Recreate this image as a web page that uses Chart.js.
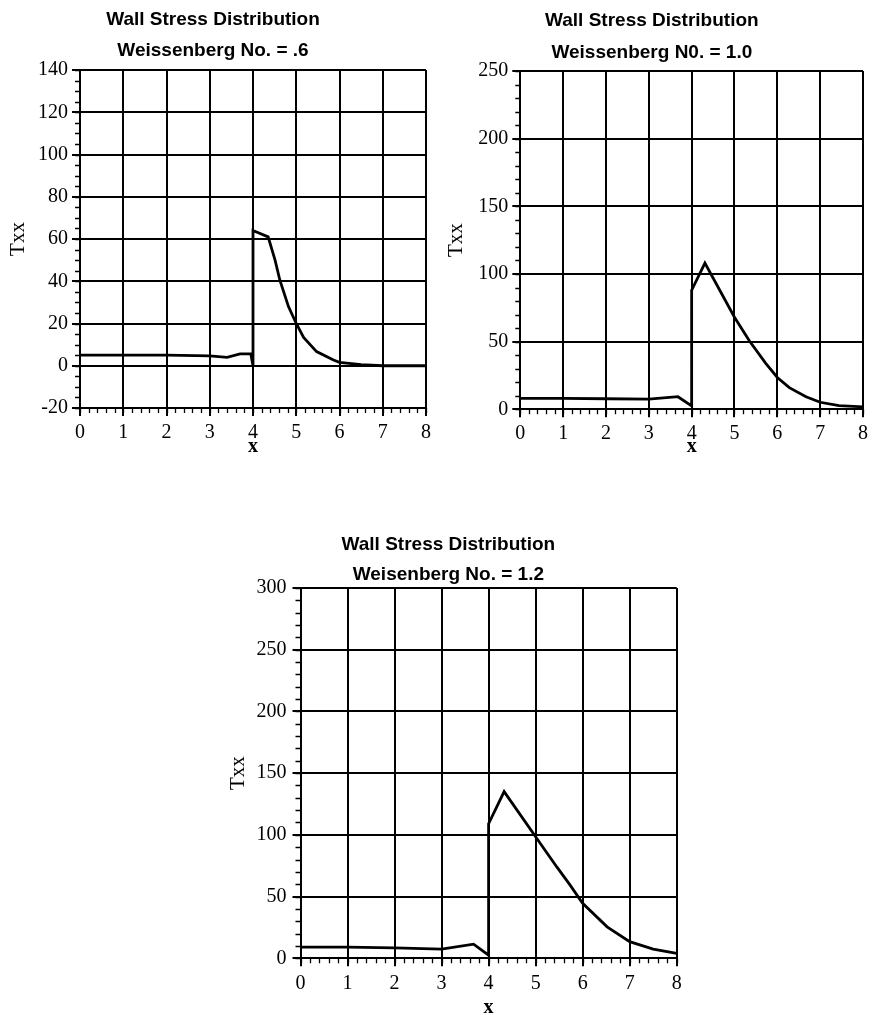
<!DOCTYPE html>
<html>
<head>
<meta charset="utf-8">
<title>Wall Stress Distribution</title>
<script src="https://cdn.jsdelivr.net/npm/chart.js@4.4.1/dist/chart.umd.min.js"></script>
<style>
  html, body { margin: 0; padding: 0; background: #fff; overflow: hidden; }
  .box { position: absolute; }
</style>
</head>
<body>
<div class="box" style="left:0;top:0;width:440px;height:470px"><canvas id="chartWe06"></canvas></div>
<div class="box" style="left:440px;top:0;width:432px;height:470px"><canvas id="chartWe10"></canvas></div>
<div class="box" style="left:220px;top:520px;width:470px;height:500px"><canvas id="chartWe12"></canvas></div>
<script>
// data (x along the wall, Txx wall stress)
const xWe06 = [0, 1, 2, 3, 3.4, 3.7, 3.95, 4.0, 4.0, 4.35, 4.51, 4.62, 4.82, 5.0, 5.17, 5.47, 5.86, 6.0, 6.5, 7.0, 8.0];
const txxWe06 = [5, 5, 5, 4.7, 4, 5.6, 5.6, 0, 64, 61, 50, 40.6, 28, 20, 13.4, 6.7, 2.7, 1.6, 0.5, 0, 0];

const xWe10 = [0, 1, 2, 3, 3.68, 4.0, 4.0, 4.31, 5.0, 5.35, 5.73, 6.0, 6.28, 6.67, 7.0, 7.44, 8.0];
const txxWe10 = [8, 8, 7.8, 7.5, 9.3, 2.5, 88, 108, 68, 50.5, 34, 23.5, 16, 9.3, 5.2, 2.7, 1.8];

const xWe12 = [0, 1, 2, 3, 3.68, 4.0, 4.0, 4.33, 5.0, 5.45, 5.73, 6.0, 6.52, 7.0, 7.5, 8.0];
const txxWe12 = [9, 9, 8.5, 7.5, 11.5, 2.5, 109, 135, 98.5, 74, 59.5, 44.5, 25.5, 13.5, 7.5, 4];

const titleText = 'Wall Stress Distribution';
const subtitles = ['Weissenberg No. = .6', 'Weissenberg N0. = 1.0', 'Weisenberg No. = 1.2'];

// axis ranges: [min, max, major step, minor step]
const xRange = [0, 8, 1, 0.2];
const yRangeWe06 = [-20, 140, 20, 5];
const yRangeWe10 = [0, 250, 50, 10];
const yRangeWe12 = [0, 300, 50, 10];

Chart.defaults.font.family = "'Liberation Serif', 'Times New Roman', serif";
Chart.defaults.color = '#000';

// small outside ticks between the labelled ones
const minorTicks = {
  id: 'minorTicks',
  afterDraw(chart, args, opts) {
    const { ctx, scales: { x, y } } = chart;
    ctx.save();
    ctx.strokeStyle = '#000';
    ctx.lineWidth = 1.3;
    ctx.beginPath();
    const nx = Math.round((x.max - x.min) / opts.xStep);
    for (let i = 0; i <= nx; i++) {
      const px = Math.round(x.getPixelForValue(x.min + i * opts.xStep)) + 0.5;
      ctx.moveTo(px, x.top);
      ctx.lineTo(px, x.top + 5);
    }
    const ny = Math.round((y.max - y.min) / opts.yStep);
    for (let i = 0; i <= ny; i++) {
      const py = Math.round(y.getPixelForValue(y.min + i * opts.yStep)) + 0.5;
      ctx.moveTo(y.right, py);
      ctx.lineTo(y.right - 5, py);
    }
    ctx.stroke();
    ctx.restore();
  }
};

function makeChart(id, xs, ys, sub, yRange, lay) {
  const points = xs.map((v, i) => ({ x: v, y: ys[i] }));
  const grid = { color: '#000', lineWidth: 2, tickLength: 8, drawTicks: true };
  const titleFont = { family: "'Liberation Sans', Arial, sans-serif", size: 19, weight: 'bold', lineHeight: 1.2 };
  return new Chart(document.getElementById(id), {
    type: 'scatter',
    data: {
      datasets: [{
        data: points,
        showLine: true,
        borderColor: '#000',
        borderWidth: 2.8,
        pointRadius: 0,
        tension: 0
      }]
    },
    options: {
      responsive: true,
      maintainAspectRatio: false,
      animation: false,
      layout: { padding: { left: 0, top: 0, bottom: 0, right: lay.padRight } },
      plugins: {
        legend: { display: false },
        tooltip: { enabled: false },
        title: { display: true, text: titleText, color: '#000', font: titleFont, padding: { top: lay.t1, bottom: 0 } },
        subtitle: { display: true, text: sub, color: '#000', font: titleFont, padding: { top: lay.t2, bottom: lay.t3 } },
        minorTicks: { xStep: xRange[3], yStep: yRange[3] }
      },
      scales: {
        x: {
          type: 'linear',
          min: xRange[0],
          max: xRange[1],
          grid: grid,
          border: { color: '#000', width: 2 },
          ticks: { stepSize: xRange[2], autoSkip: false, maxRotation: 0, padding: lay.xPad, font: { size: 20 } },
          title: { display: true, text: 'x', font: { size: 20, weight: 'bold', lineHeight: 1.2 }, padding: { top: 0, bottom: lay.xTitle } },
          afterFit: (s) => { s.height = lay.xHeight; }
        },
        y: {
          min: yRange[0],
          max: yRange[1],
          grid: grid,
          border: { color: '#000', width: 2 },
          ticks: { stepSize: yRange[2], padding: lay.yPad, font: { size: 20 } },
          title: { display: true, text: 'Txx', font: { size: 21, lineHeight: 1.2 }, padding: { top: lay.yTitle, bottom: 0 } },
          afterFit: (s) => { s.width = lay.yWidth; }
        }
      }
    },
    plugins: [minorTicks]
  });
}

window.addEventListener('DOMContentLoaded', () => {
  makeChart('chartWe06', xWe06, txxWe06, subtitles[0], yRangeWe06,
    { padRight: 14, t1: 8.6, t2: 7.9, t3: 7.9, xPad: 5, xTitle: 11, xHeight: 62, yPad: 4, yTitle: 5.4, yWidth: 80 });
  makeChart('chartWe10', xWe10, txxWe10, subtitles[1], yRangeWe10,
    { padRight: 8.3, t1: 9.3, t2: 8.8, t3: 7.3, xPad: 4, xTitle: 11, xHeight: 60.7, yPad: 4, yTitle: 4.1, yWidth: 80.3 });
  makeChart('chartWe12', xWe12, txxWe12, subtitles[2], yRangeWe12,
    { padRight: 13.3, t1: 13.6, t2: 6.8, t3: 1.9, xPad: 5, xTitle: 0, xHeight: 61.7, yPad: 6, yTitle: 5.4, yWidth: 80.5 });
});
</script>
</body>
</html>
